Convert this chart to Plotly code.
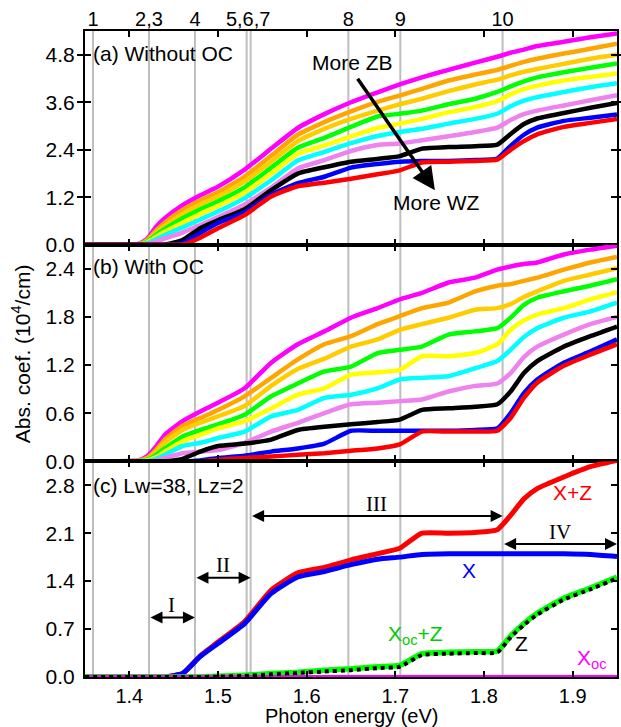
import plotly.graph_objects as go

# ---------------- data ----------------
energy = [1.35, 1.41, 1.42, 1.43, 1.44, 1.46, 1.48, 1.50, 1.53, 1.56, 1.59, 1.62, 1.65,
          1.68, 1.705, 1.73, 1.76, 1.79, 1.815, 1.83, 1.845, 1.86, 1.89, 1.92, 1.95]

curve_colors = ["#FF00FF", "#FFA500", "#FFCC00", "#00FF00", "#FFFF00",
                "#00FFFF", "#EE82EE", "#000000", "#0000FF", "#FF0000"]

# panel (a) without optical confinement (10^4/cm)
a_magenta = [0, 0.02, 0.15, 0.45, 0.67, 1.00, 1.25, 1.47, 1.90, 2.43, 2.95, 3.30, 3.60, 3.85, 4.05, 4.23, 4.42, 4.60, 4.75, 4.85, 4.93, 5.02, 5.13, 5.24, 5.34]
a_orange  = [0, 0.01, 0.12, 0.36, 0.56, 0.88, 1.12, 1.33, 1.72, 2.25, 2.78, 3.10, 3.37, 3.61, 3.77, 3.94, 4.15, 4.30, 4.42, 4.52, 4.62, 4.70, 4.83, 4.95, 5.08]
a_gold    = [0, 0.01, 0.10, 0.30, 0.48, 0.78, 1.02, 1.22, 1.60, 2.10, 2.62, 2.93, 3.18, 3.39, 3.55, 3.69, 3.88, 4.05, 4.17, 4.28, 4.37, 4.44, 4.57, 4.70, 4.80]
a_green   = [0, 0.01, 0.08, 0.25, 0.40, 0.67, 0.90, 1.10, 1.45, 1.95, 2.45, 2.70, 2.98, 3.24, 3.31, 3.39, 3.55, 3.69, 3.86, 4.00, 4.13, 4.23, 4.36, 4.47, 4.58]
a_yellow  = [0, 0.00, 0.06, 0.20, 0.33, 0.56, 0.78, 0.98, 1.32, 1.80, 2.30, 2.51, 2.74, 2.95, 3.06, 3.18, 3.35, 3.48, 3.63, 3.80, 3.93, 4.02, 4.15, 4.24, 4.33]
a_cyan    = [0, 0.00, 0.04, 0.14, 0.25, 0.44, 0.64, 0.84, 1.18, 1.63, 2.13, 2.35, 2.57, 2.75, 2.85, 2.93, 3.06, 3.18, 3.31, 3.50, 3.64, 3.73, 3.86, 3.98, 4.08]
a_violet  = [0, 0.00, 0.02, 0.08, 0.16, 0.31, 0.50, 0.70, 1.02, 1.45, 1.93, 2.14, 2.37, 2.52, 2.56, 2.64, 2.74, 2.85, 2.96, 3.15, 3.30, 3.39, 3.52, 3.65, 3.78]
a_black   = [0, 0.00, 0.00, 0.00, 0.01, 0.12, 0.42, 0.62, 0.90, 1.38, 1.80, 1.96, 2.10, 2.17, 2.24, 2.43, 2.47, 2.49, 2.53, 2.80, 3.05, 3.19, 3.33, 3.46, 3.58]
a_blue    = [0, 0.00, 0.00, 0.00, 0.00, 0.04, 0.30, 0.55, 0.82, 1.27, 1.56, 1.72, 1.95, 2.04, 2.10, 2.12, 2.12, 2.14, 2.18, 2.50, 2.78, 2.96, 3.13, 3.21, 3.29]
a_red     = [0, 0.00, 0.00, 0.00, 0.00, 0.01, 0.18, 0.42, 0.75, 1.22, 1.48, 1.57, 1.67, 1.78, 1.88, 2.08, 2.10, 2.12, 2.15, 2.40, 2.62, 2.79, 2.98, 3.08, 3.18]

# panel (b) with optical confinement (10^4/cm)
b_magenta = [0, 0.01, 0.06, 0.18, 0.33, 0.50, 0.62, 0.73, 0.91, 1.23, 1.46, 1.62, 1.79, 1.91, 2.02, 2.10, 2.23, 2.29, 2.39, 2.43, 2.46, 2.48, 2.58, 2.64, 2.69]
b_orange  = [0, 0.01, 0.04, 0.14, 0.27, 0.44, 0.54, 0.64, 0.81, 1.04, 1.27, 1.46, 1.56, 1.71, 1.81, 1.91, 1.98, 2.12, 2.19, 2.21, 2.25, 2.29, 2.39, 2.48, 2.55]
b_gold    = [0, 0.00, 0.03, 0.12, 0.23, 0.39, 0.48, 0.56, 0.69, 0.94, 1.15, 1.28, 1.43, 1.52, 1.64, 1.71, 1.79, 1.89, 1.91, 1.96, 2.05, 2.12, 2.25, 2.33, 2.41]
b_green   = [0, 0.00, 0.02, 0.08, 0.16, 0.31, 0.39, 0.46, 0.58, 0.81, 0.97, 1.12, 1.18, 1.35, 1.39, 1.43, 1.58, 1.62, 1.66, 1.79, 1.95, 2.04, 2.12, 2.19, 2.27]
b_yellow  = [0, 0.00, 0.01, 0.05, 0.12, 0.25, 0.33, 0.41, 0.50, 0.66, 0.83, 0.91, 1.08, 1.11, 1.14, 1.31, 1.31, 1.35, 1.46, 1.64, 1.76, 1.83, 1.91, 2.02, 2.11]
b_cyan    = [0, 0.00, 0.00, 0.03, 0.08, 0.19, 0.23, 0.29, 0.37, 0.56, 0.64, 0.79, 0.83, 0.91, 1.02, 1.04, 1.06, 1.16, 1.25, 1.39, 1.55, 1.66, 1.79, 1.87, 1.98]
b_violet  = [0, 0.00, 0.00, 0.01, 0.04, 0.10, 0.12, 0.14, 0.23, 0.37, 0.48, 0.60, 0.71, 0.73, 0.75, 0.77, 0.87, 0.94, 0.97, 1.10, 1.30, 1.43, 1.58, 1.71, 1.80]
b_black   = [0, 0.00, 0.00, 0.00, 0.00, 0.03, 0.12, 0.19, 0.22, 0.27, 0.39, 0.43, 0.46, 0.49, 0.52, 0.64, 0.66, 0.68, 0.71, 0.87, 1.10, 1.25, 1.43, 1.56, 1.68]
b_blue    = [0, 0.00, 0.00, 0.00, 0.00, 0.00, 0.01, 0.04, 0.07, 0.12, 0.16, 0.22, 0.38, 0.38, 0.38, 0.38, 0.38, 0.39, 0.41, 0.60, 0.85, 1.02, 1.23, 1.37, 1.52]
b_red     = [0, 0.00, 0.00, 0.00, 0.00, 0.00, 0.00, 0.02, 0.04, 0.06, 0.08, 0.10, 0.13, 0.16, 0.21, 0.37, 0.37, 0.37, 0.38, 0.54, 0.79, 0.98, 1.19, 1.33, 1.46]

# panel (c) Lw=38, Lz=2 decomposition
c_X_plus_Z   = [0, 0, 0, 0, 0, 0.05, 0.31, 0.51, 0.81, 1.27, 1.52, 1.60, 1.71, 1.80, 1.88, 2.10, 2.10, 2.11, 2.15, 2.36, 2.60, 2.75, 2.92, 3.07, 3.16]
c_X          = [0, 0, 0, 0, 0, 0.05, 0.30, 0.49, 0.78, 1.22, 1.46, 1.54, 1.64, 1.72, 1.75, 1.79, 1.80, 1.80, 1.80, 1.80, 1.80, 1.80, 1.80, 1.79, 1.76]
c_Xoc_plus_Z = [0, 0, 0, 0, 0, 0, 0.005, 0.01, 0.025, 0.05, 0.07, 0.10, 0.12, 0.15, 0.17, 0.34, 0.36, 0.37, 0.38, 0.60, 0.78, 0.93, 1.15, 1.30, 1.46]
c_Z          = [0, 0, 0, 0, 0, 0, 0, 0.005, 0.015, 0.04, 0.06, 0.08, 0.10, 0.13, 0.15, 0.32, 0.34, 0.35, 0.36, 0.58, 0.76, 0.91, 1.13, 1.28, 1.44]
c_Xoc        = [0] * len(energy)

# transition energies (grey lines) and top labels
transition_energies = [1.359, 1.4222, 1.474, 1.5323, 1.5368, 1.647, 1.7056, 1.821]
top_label_pos = [1.359, 1.4222, 1.474, 1.534, 1.647, 1.7056, 1.821]
top_label_text = ["1", "2,3", "4", "5,6,7", "8", "9", "10"]

FONT = "Arial"
FS = 21
TFS = 20
SMOOTH = 0.5

fig = go.Figure()

a_series = [a_magenta, a_orange, a_gold, a_green, a_yellow, a_cyan, a_violet, a_black, a_blue, a_red]
b_series = [b_magenta, b_orange, b_gold, b_green, b_yellow, b_cyan, b_violet, b_black, b_blue, b_red]
for vals, col in zip(a_series, curve_colors):
    fig.add_trace(go.Scatter(x=energy, y=vals, mode="lines",
                             line=dict(color=col, width=4.5, shape="spline", smoothing=SMOOTH),
                             xaxis="x", yaxis="y", showlegend=False, hoverinfo="skip"))
for vals, col in zip(b_series, curve_colors):
    fig.add_trace(go.Scatter(x=energy, y=vals, mode="lines",
                             line=dict(color=col, width=4.5, shape="spline", smoothing=SMOOTH),
                             xaxis="x2", yaxis="y2", showlegend=False, hoverinfo="skip"))

fig.add_trace(go.Scatter(x=energy, y=c_X_plus_Z, mode="lines",
                         line=dict(color="#FF0000", width=5, shape="spline", smoothing=SMOOTH),
                         xaxis="x3", yaxis="y3", showlegend=False))
fig.add_trace(go.Scatter(x=energy, y=c_X, mode="lines",
                         line=dict(color="#0000FF", width=5, shape="spline", smoothing=SMOOTH),
                         xaxis="x3", yaxis="y3", showlegend=False))
fig.add_trace(go.Scatter(x=energy, y=c_Xoc_plus_Z, mode="lines",
                         line=dict(color="#00FF00", width=5.5, shape="spline", smoothing=SMOOTH),
                         xaxis="x3", yaxis="y3", showlegend=False))
fig.add_trace(go.Scatter(x=energy, y=c_Xoc, mode="lines", line=dict(color="#FF00FF", width=4),
                         xaxis="x3", yaxis="y3", showlegend=False))
fig.add_trace(go.Scatter(x=energy, y=c_Z, mode="lines",
                         line=dict(color="black", width=4, dash="4px,4px", shape="spline", smoothing=SMOOTH),
                         xaxis="x3", yaxis="y3", showlegend=False))
# invisible trace to carry the top axis
fig.add_trace(go.Scatter(x=[1.35], y=[0], mode="markers", marker=dict(opacity=0),
                         xaxis="x4", yaxis="y", showlegend=False, hoverinfo="skip"))

xr = [1.35, 1.95]
xcommon = dict(range=xr, showline=True, linecolor="black", linewidth=2, mirror="allticks",
               ticks="inside", ticklen=6, tickwidth=1.5, tickcolor="black", tick0=1.4, dtick=0.1,
               showgrid=False, zeroline=False, automargin=False,
               tickfont=dict(family=FONT, size=TFS, color="black"))
ycommon = dict(showline=True, linecolor="black", linewidth=2, mirror="allticks",
               ticks="inside", ticklen=6, tickwidth=1.5, tickcolor="black", tickformat=".1f",
               showgrid=False, zeroline=False, automargin=False,
               tickfont=dict(family=FONT, size=FS, color="black"), ticklabelstandoff=4)

fig.update_layout(
    template="none",
    width=621, height=727,
    margin=dict(l=85, r=4, t=31, b=50, pad=0),
    paper_bgcolor="white", plot_bgcolor="white",
    xaxis=dict(**xcommon, anchor="y", showticklabels=False),
    xaxis2=dict(**xcommon, anchor="y2", showticklabels=False, matches="x"),
    xaxis3=dict(**xcommon, anchor="y3", showticklabels=True, matches="x"),
    xaxis4=dict(range=xr, overlaying="x", anchor="y", side="top", tickvals=top_label_pos,
                ticktext=top_label_text, ticks="", showline=False, showgrid=False, zeroline=False,
                automargin=False, tickfont=dict(family=FONT, size=TFS, color="black")),
    yaxis=dict(**ycommon, domain=[0.669, 1.0], range=[0, 5.4], tick0=0, dtick=1.2),
    yaxis2=dict(**ycommon, domain=[0.334, 0.669], range=[0, 2.7], tick0=0, dtick=0.6),
    yaxis3=dict(**ycommon, domain=[0.0, 0.334], range=[0, 3.15], tick0=0, dtick=0.7),
)

for e in transition_energies:
    fig.add_shape(type="line", xref="x", yref="paper", x0=e, x1=e, y0=0, y1=1,
                  line=dict(color="#BEBEBE", width=2), layer="below")

def txt(x, y, s, xref, yref, color="black", size=FS, family=FONT, xanchor="center", angle=0):
    fig.add_annotation(x=x, y=y, text=s, xref=xref, yref=yref, showarrow=False,
                       font=dict(family=family, size=size, color=color), xanchor=xanchor,
                       yanchor="middle", textangle=angle)

txt(1.3565, 4.82, "(a) Without OC", "x", "y", xanchor="left")
txt(1.3565, 2.43, "(b) With OC", "x2", "y2", xanchor="left")
txt(1.3565, 2.80, "(c) Lw=38, Lz=2", "x3", "y3", xanchor="left")

txt(1.652, 4.61, "More ZB", "x", "y")
txt(1.7465, 1.06, "More WZ", "x", "y")
fig.add_annotation(x=1.7446, y=1.38, ax=1.6563, ay=4.23, xref="x", yref="y", axref="x", ayref="y",
                   showarrow=True, arrowhead=2, arrowsize=1.3, arrowwidth=3.5, arrowcolor="black", text="")

# region arrows in panel (c)
regions = [("I", 1.4222, 1.474, 0.87), ("II", 1.474, 1.5368, 1.45),
           ("III", 1.5368, 1.821, 2.35), ("IV", 1.821, 1.95, 1.94)]
for lab, e0, e1, yv in regions:
    fig.add_annotation(x=e1, y=yv, ax=e0, ay=yv, xref="x3", yref="y3", axref="x3", ayref="y3",
                       showarrow=True, arrowhead=2, startarrowhead=2, arrowside="end+start",
                       arrowsize=1.2, startarrowsize=1.2, arrowwidth=2, arrowcolor="black", text="")
    txt((e0 + e1) / 2, yv + 0.18, lab, "x3", "y3", family="Times New Roman", size=FS)

txt(1.9, 2.70, "X+Z", "x3", "y3", color="#FF0000")
txt(1.7835, 1.55, "X", "x3", "y3", color="#0000FF")
txt(1.7225, 0.62, "X<sub>oc</sub>+Z", "x3", "y3", color="#00CC00")
txt(1.8425, 0.49, "Z", "x3", "y3")
txt(1.9216, 0.27, "X<sub>oc</sub>", "x3", "y3", color="#FF00FF")

txt(-0.120, 0.5, "Abs. coef. (10<sup>4</sup>/cm)", "paper", "paper", angle=-90)
txt(0.5, -0.061, "Photon energy (eV)", "paper", "paper", size=TFS)

fig.write_html("out.html", config={"displayModeBar": False},
               post_script="document.body.style.margin='0';document.body.style.overflow='hidden';")
